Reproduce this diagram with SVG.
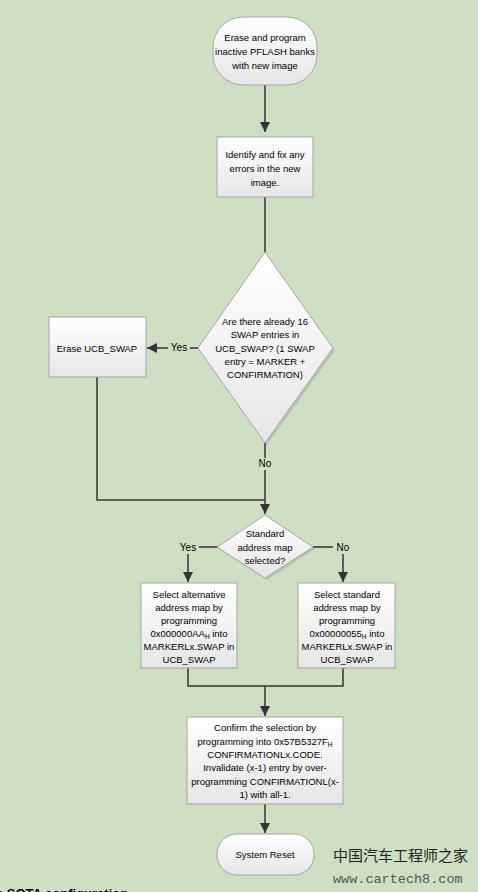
<svg xmlns="http://www.w3.org/2000/svg" width="478" height="892" viewBox="0 0 478 892">
<defs>
<linearGradient id="g" x1="0" y1="0" x2="0" y2="1">
<stop offset="0" stop-color="#ffffff"/>
<stop offset="1" stop-color="#e6e6e6"/>
</linearGradient>
<marker id="arr" viewBox="0 0 10 10" refX="10" refY="5" markerWidth="10" markerHeight="10" markerUnits="userSpaceOnUse" orient="auto">
<path d="M0,0 L10,5 L0,10 z" fill="#333"/>
</marker>
</defs>
<style>
.shape{fill:url(#g);stroke:#a6a6a6;stroke-width:1}
.shadow{fill:#b8c4b0}
.t{font-family:"Liberation Sans",Arial,sans-serif;font-size:9.5px;fill:#000;text-anchor:middle}
.lbl{font-family:"Liberation Sans",Arial,sans-serif;font-size:10px;fill:#000;text-anchor:middle;dominant-baseline:middle}
.c{fill:none;stroke:#333;stroke-width:1.5}
</style>
<rect width="478" height="892" fill="#cfdfc4"/>

<g id="connectors">
<path class="c" d="M265,85 V132" marker-end="url(#arr)"/>
<path class="c" d="M265,197 V252"/>
<path class="c" d="M198,348 H147" marker-end="url(#arr)"/>
<path class="c" d="M97,377 V500 H265"/>
<path class="c" d="M265,443 V514" marker-end="url(#arr)"/>
<path class="c" d="M217,547 H188 V582" marker-end="url(#arr)"/>
<path class="c" d="M313,547 H343 V582" marker-end="url(#arr)"/>
<path class="c" d="M188,668 V686 H343 V668"/>
<path class="c" d="M265,686 V716" marker-end="url(#arr)"/>
<path class="c" d="M265,804 V833" marker-end="url(#arr)"/>
<rect x="168" y="342" width="22" height="12" fill="#cfdfc4"/>
<text class="lbl" x="179" y="348">Yes</text>
<rect x="255" y="458" width="20" height="12" fill="#cfdfc4"/>
<text class="lbl" x="265" y="464">No</text>
<rect x="177" y="542" width="22" height="12" fill="#cfdfc4"/>
<text class="lbl" x="188" y="548">Yes</text>
<rect x="333" y="542" width="20" height="12" fill="#cfdfc4"/>
<text class="lbl" x="343" y="548">No</text>
</g>

<g id="n1">
<rect class="shape" x="213" y="17" width="104" height="68" rx="30" ry="30"/>
<text class="t" x="265" y="41">Erase and program</text>
<text class="t" x="265" y="55">inactive PFLASH banks</text>
<text class="t" x="265" y="69">with new image</text>
</g>

<g id="n2">
<rect class="shape" x="217" y="137" width="96" height="60"/>
<text class="t" x="265" y="158">Identify and fix any</text>
<text class="t" x="265" y="172">errors in the new</text>
<text class="t" x="265" y="186">image.</text>
</g>

<g id="d1">
<polygon class="shadow" points="267,255 335,350 267,445 200,350"/>
<polygon class="shape" points="265,252 333,348 265,443 198,348"/>
<text class="t" x="265" y="325">Are there already 16</text>
<text class="t" x="265" y="338">SWAP entries in</text>
<text class="t" x="265" y="352">UCB_SWAP? (1 SWAP</text>
<text class="t" x="265" y="365">entry = MARKER +</text>
<text class="t" x="265" y="378">CONFIRMATION)</text>
</g>

<g id="n3">
<rect class="shape" x="49" y="317" width="97" height="60"/>
<text class="t" x="97" y="352">Erase UCB_SWAP</text>
</g>

<g id="d2">
<polygon class="shadow" points="267,517 315,549 267,580 219,549"/>
<polygon class="shape" points="265,515 313,547 265,578 217,547"/>
<text class="t" x="265" y="537">Standard</text>
<text class="t" x="265" y="551">address map</text>
<text class="t" x="265" y="564">selected?</text>
</g>

<g id="n4">
<rect class="shape" x="141" y="583" width="96" height="85"/>
<text class="t" x="189" y="598">Select alternative</text>
<text class="t" x="189" y="611">address map by</text>
<text class="t" x="189" y="624">programming</text>
<text class="t" x="189" y="637">0x000000AA<tspan font-size="6.5" dy="2">H</tspan><tspan dy="-2"> into</tspan></text>
<text class="t" x="189" y="650">MARKERLx.SWAP in</text>
<text class="t" x="189" y="663">UCB_SWAP</text>
</g>

<g id="n5">
<rect class="shape" x="298" y="583" width="97" height="85"/>
<text class="t" x="347" y="598">Select standard</text>
<text class="t" x="347" y="611">address map by</text>
<text class="t" x="347" y="624">programming</text>
<text class="t" x="347" y="637">0x00000055<tspan font-size="6.5" dy="2">H</tspan><tspan dy="-2"> into</tspan></text>
<text class="t" x="347" y="650">MARKERLx.SWAP in</text>
<text class="t" x="347" y="663">UCB_SWAP</text>
</g>

<g id="n6">
<rect class="shape" x="187" y="717" width="156" height="87"/>
<text class="t" x="265" y="731">Confirm the selection by</text>
<text class="t" x="265" y="745">programming into 0x57B5327F<tspan font-size="6.5" dy="2">H</tspan></text>
<text class="t" x="265" y="758">CONFIRMATIONLx.CODE.</text>
<text class="t" x="265" y="771">Invalidate (x-1) entry by over-</text>
<text class="t" x="265" y="785">programming CONFIRMATIONL(x-</text>
<text class="t" x="265" y="798">1) with all-1.</text>
</g>

<g id="n7">
<rect class="shape" x="217" y="834" width="97" height="41" rx="20" ry="20"/>
<text class="t" x="265" y="858" font-size="9">System Reset</text>
</g>

<text x="333" y="861" font-family="'Noto Sans CJK SC',sans-serif" font-size="15" fill="#222">中国汽车工程师之家</text>
<text x="333" y="883" font-family="'Liberation Mono',monospace" font-size="13.5" fill="#555">www.cartech8.com</text>
<text x="-4" y="898" font-family="'Liberation Sans',Arial,sans-serif" font-size="13" font-weight="bold" fill="#000">e SOTA configuration</text>
</svg>
